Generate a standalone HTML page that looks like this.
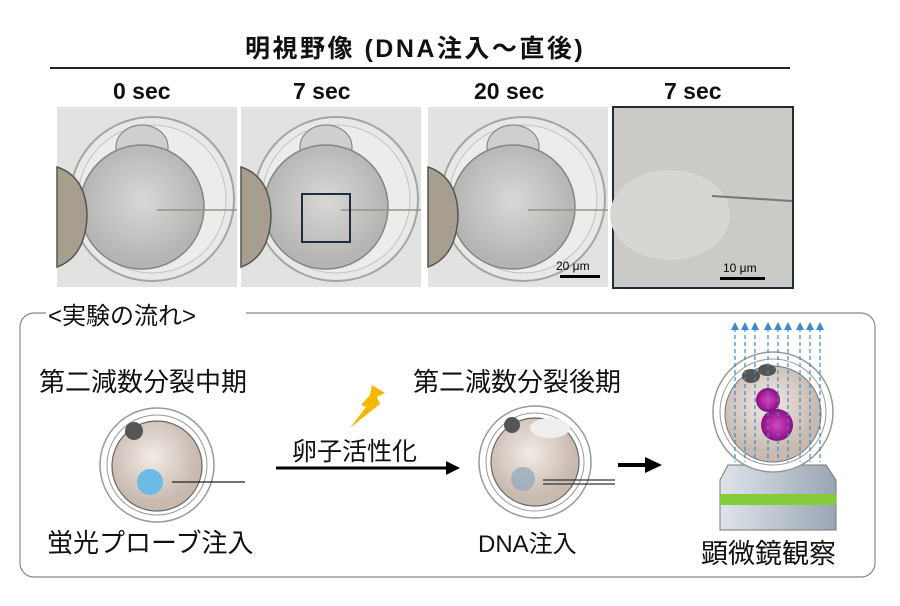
<!DOCTYPE html><html><head><meta charset="utf-8"><style>
body{margin:0;width:900px;height:606px;background:#fff;position:relative;overflow:hidden;font-family:"Liberation Sans","Noto Sans CJK JP",sans-serif;color:#111}
.t{position:absolute;white-space:nowrap}
.b{font-weight:bold}
</style></head><body>
<div class="t b" style="left:245px;top:29px;font-size:25px;letter-spacing:2.5px">明視野像 (DNA注入～直後)</div>
<div style="position:absolute;left:50px;top:67px;width:740px;height:2px;background:#222"></div>
<div class="t b" style="left:113px;top:78px;font-size:23px">0 sec</div>
<div class="t b" style="left:293px;top:78px;font-size:23px">7 sec</div>
<div class="t b" style="left:474px;top:78px;font-size:23px">20 sec</div>
<div class="t b" style="left:664px;top:78px;font-size:23px">7 sec</div>
<svg width="900" height="606" style="position:absolute;left:0;top:0">
<defs>
<radialGradient id="eg" cx="50%" cy="45%"><stop offset="0" stop-color="#d8d8d6"/><stop offset="1" stop-color="#b4b4b2"/></radialGradient>
<radialGradient id="eg2" cx="45%" cy="40%"><stop offset="0" stop-color="#f2ebe6"/><stop offset="1" stop-color="#c9bab0"/></radialGradient>
<radialGradient id="mg"><stop offset="0" stop-color="#e040c0"/><stop offset="1" stop-color="#8a0e80"/></radialGradient>
<linearGradient id="ms" x1="0" x2="1"><stop offset="0" stop-color="#dfe4ea"/><stop offset="1" stop-color="#9aa6b4"/></linearGradient>
<g id="egg">
<rect x="0" y="0" width="180" height="180" fill="#e2e2e0"/>
<circle cx="95" cy="92" r="82" fill="#e8e8e6" stroke="#a4a4a2" stroke-width="2"/>
<circle cx="95" cy="92" r="74" fill="#ececea" stroke="#c0c0be" stroke-width="1"/>
<ellipse cx="85" cy="40" rx="26" ry="22" fill="#cfcfcd" stroke="#888" stroke-width="1.2"/>
<circle cx="85" cy="100" r="62" fill="url(#eg)" stroke="#858583" stroke-width="1.5"/>
<path d="M0,60 Q30,70 30,110 Q28,150 0,160 Z" fill="#a89e90" stroke="#555" stroke-width="1.5"/>
<line x1="100" y1="103" x2="180" y2="103" stroke="#9a8f8a" stroke-width="1.5"/>
</g>
</defs>
<use href="#egg" x="57" y="107"/>
<use href="#egg" x="241" y="107"/>
<rect x="302" y="194" width="48" height="48" fill="none" stroke="#1e2e3e" stroke-width="2"/>
<use href="#egg" x="428" y="107"/>
<rect x="560" y="275" width="40" height="3" fill="#000"/>
<rect x="613" y="107" width="180" height="181" fill="#cacac6" stroke="#1e2e3e" stroke-width="2"/>
<ellipse cx="670" cy="215" rx="60" ry="45" fill="#d6d6d2"/>
<line x1="712" y1="196" x2="792" y2="201" stroke="#777" stroke-width="2"/>
<rect x="720" y="277" width="45" height="3" fill="#000"/>
<text x="556" y="270" font-size="12" font-family="Liberation Sans">20 μm</text>
<text x="723" y="272" font-size="12" font-family="Liberation Sans">10 μm</text>
<rect x="20" y="313" width="855" height="264" rx="14" fill="none" stroke="#888" stroke-width="1.2"/>
<rect x="46" y="300" width="200" height="20" fill="#fff"/>
<circle cx="157" cy="465" r="57" fill="#fff" stroke="#999" stroke-width="1.5"/>
<circle cx="157" cy="465" r="50" fill="#fff" stroke="#999" stroke-width="1"/>
<circle cx="157" cy="466" r="45" fill="url(#eg2)" stroke="#666" stroke-width="1.2"/>
<circle cx="134" cy="431" r="9" fill="#555"/>
<circle cx="150" cy="482" r="13" fill="#6bbbe4"/>
<line x1="172" y1="482" x2="245" y2="482" stroke="#222" stroke-width="1.2"/>
<line x1="276" y1="468" x2="448" y2="468" stroke="#000" stroke-width="3"/>
<polygon points="446,461 460,468 446,475" fill="#000"/>
<polygon points="372,385 385,393 377,397 380,404 350,428 366,407 361,405 370,395" fill="#f5b800"/>
<circle cx="535" cy="462" r="56" fill="#fff" stroke="#999" stroke-width="1.5"/>
<circle cx="535" cy="462" r="49" fill="#fff" stroke="#999" stroke-width="1"/>
<circle cx="535" cy="462" r="44" fill="url(#eg2)" stroke="#666" stroke-width="1.2"/>
<ellipse cx="550" cy="428" rx="20" ry="10" fill="#eee"/>
<circle cx="512" cy="425" r="8" fill="#555"/>
<circle cx="523" cy="479" r="12" fill="#9ab" opacity=".8"/>
<line x1="543" y1="480" x2="615" y2="480" stroke="#333" stroke-width="1.2"/>
<line x1="543" y1="484" x2="615" y2="484" stroke="#333" stroke-width="1.2"/>
<rect x="618" y="463" width="30" height="4" fill="#000"/>
<polygon points="645,457 662,465 645,473" fill="#000"/>
<polygon points="728,465 826,465 836,480 836,530 720,530 720,480" fill="url(#ms)" stroke="#777"/>
<rect x="720" y="494" width="116" height="11" fill="#84cc3c"/>
<circle cx="773" cy="412" r="60" fill="#fff" stroke="#999" stroke-width="1.5"/>
<circle cx="773" cy="412" r="53" fill="#fff" stroke="#999"/>
<circle cx="773" cy="414" r="48" fill="url(#eg2)" stroke="#777"/>
<ellipse cx="751" cy="376" rx="9" ry="7" fill="#555"/><ellipse cx="767" cy="370" rx="9" ry="6" fill="#555"/>
<circle cx="768" cy="400" r="12" fill="url(#mg)"/>
<circle cx="777" cy="425" r="16" fill="url(#mg)"/>
<g stroke="#3a8ad0" stroke-width="1.2" stroke-dasharray="4 3">
<line x1="735" y1="328" x2="735" y2="462"/><line x1="745" y1="328" x2="745" y2="462"/><line x1="755" y1="328" x2="755" y2="462"/>
<line x1="768" y1="328" x2="768" y2="462"/><line x1="778" y1="328" x2="778" y2="462"/><line x1="788" y1="328" x2="788" y2="462"/>
<line x1="800" y1="328" x2="800" y2="462"/><line x1="810" y1="328" x2="810" y2="462"/><line x1="820" y1="328" x2="820" y2="462"/>
</g>
<g fill="#3a8ad0">
<polygon points="731,330 735,322 739,330"/><polygon points="741,330 745,322 749,330"/><polygon points="751,330 755,322 759,330"/>
<polygon points="764,330 768,322 772,330"/><polygon points="774,330 778,322 782,330"/><polygon points="784,330 788,322 792,330"/>
<polygon points="796,330 800,322 804,330"/><polygon points="806,330 810,322 814,330"/><polygon points="816,330 820,322 824,330"/>
</g>
</svg>
<div class="t" style="left:48px;top:296px;font-size:24px">&lt;実験の流れ&gt;</div>
<div class="t" style="left:39px;top:362px;font-size:26px">第二減数分裂中期</div>
<div class="t" style="left:413px;top:362px;font-size:26px">第二減数分裂後期</div>
<div class="t" style="left:292px;top:432px;font-size:25px">卵子活性化</div>
<div class="t" style="left:47px;top:523px;font-size:26px">蛍光プローブ注入</div>
<div class="t" style="left:478px;top:524px;font-size:24px">DNA注入</div>
<div class="t" style="left:701px;top:532px;font-size:27px">顕微鏡観察</div>
</body></html>
